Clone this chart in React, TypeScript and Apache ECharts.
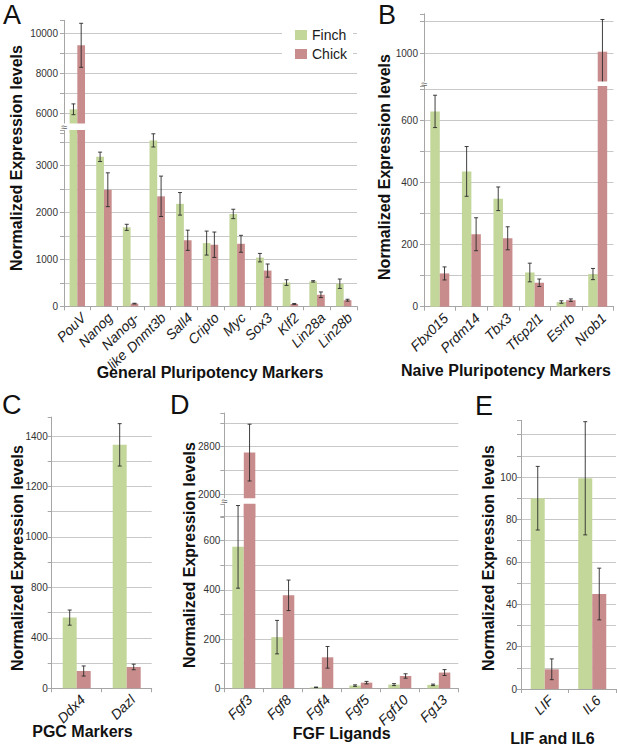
import React, { useEffect, useRef } from 'react';
import * as echarts from 'echarts';

const FONT = '"Liberation Sans", Arial, Helvetica, sans-serif';
const FINCH_COLOR = '#c4d79b';
const CHICK_COLOR = '#c98c8c';
const GRID_COLOR = '#c8c8c8';
const AXIS_COLOR = '#a6a6a6';

// ---- Panel A: General Pluripotency Markers ----
const catsA = ['PouV', 'Nanog', 'Nanog-\nlike', 'Dnmt3b', 'Sall4', 'Cripto', 'Myc', 'Sox3', 'Klf2', 'Lin28a', 'Lin28b'];
const finchA = [6200, 3180, 1680, 3530, 2180, 1345, 1965, 1035, 505, 530, 480];
const finchErrA = [270, 100, 65, 140, 240, 255, 100, 90, 60, 15, 100];
const chickA = [9400, 2480, 57, 2340, 1405, 1310, 1330, 760, 50, 245, 130];
const chickErrA = [1100, 360, 8, 430, 215, 270, 180, 140, 10, 60, 20];
const ticksAUpper = [6000, 8000, 10000];
const ticksALower = [0, 1000, 2000, 3000];

// ---- Panel B: Naive Pluripotency Markers ----
const catsB = ['Fbx015', 'Prdm14', 'Tbx3', 'Tfcp2l1', 'Esrrb', 'Nrob1'];
const finchB = [628, 435, 347, 110, 15, 105];
const finchErrB = [52, 80, 38, 30, 4, 18];
const chickB = [107, 233, 220, 77, 21, 1005];
const chickErrB = [21, 53, 37, 12, 4, 102];
const ticksBUpper = [1000];
const ticksBLower = [0, 200, 400, 600];

// ---- Panel C: PGC Markers ----
const catsC = ['Ddx4', 'Dazl'];
const finchC = [560, 1365];
const finchErrC = [60, 84];
const chickC = [137, 169];
const chickErrC = [40, 22];
const ticksCUpper = [1000, 1200, 1400];
const ticksCLower = [0, 400, 800];

// ---- Panel D: FGF Ligands ----
const catsD = ['Fgf3', 'Fgf8', 'Fgf4', 'Fgf5', 'Fgf10', 'Fg13'];
const finchD = [575, 208, 4, 11, 15, 14];
const finchErrD = [168, 68, 1, 3, 4, 3];
const chickD = [2700, 378, 126, 23, 50, 64];
const chickErrD = [480, 62, 44, 5, 9, 12];
const ticksDUpper = [2000, 2800];
const ticksDLower = [0, 200, 400, 600];

// ---- Panel E: LIF and IL6 ----
const catsE = ['LIF', 'IL6'];
const finchE = [90, 99.4];
const finchErrE = [15, 26.7];
const chickE = [9.3, 44.8];
const chickErrE = [4.9, 12.2];
const ticksE = [0, 20, 40, 60, 80, 100];

type Seg = {
  top: number; bottom: number; min: number; max: number; interval: number;
  labels: number[]; minLine: boolean; maxLine: boolean; bottomSeg: boolean; upper: boolean;
};
type Panel = {
  left: number; width: number; gap: number; cats: string[];
  finch: number[]; finchErr: number[]; chick: number[]; chickErr: number[];
  segs: Seg[]; labelMargin: number; breakBand?: [number, number];
};

const panels: Panel[] = [
  {
    left: 64, width: 293, gap: 0.42, cats: catsA,
    finch: finchA, finchErr: finchErrA, chick: chickA, chickErr: chickErrA, labelMargin: 6,
    breakBand: [123.5, 130],
    segs: [
      { top: 20.3, bottom: 133.3, min: 5000, max: 10650, interval: 1000, labels: ticksAUpper, minLine: false, maxLine: false, bottomSeg: false, upper: true },
      { top: 130.05, bottom: 306.3, min: 0, max: 3750, interval: 500, labels: ticksALower, minLine: true, maxLine: false, bottomSeg: true, upper: false },
    ],
  },
  {
    left: 424, width: 189.5, gap: 0.4, cats: catsB,
    finch: finchB, finchErr: finchErrB, chick: chickB, chickErr: chickErrB, labelMargin: 6,
    breakBand: [81.5, 85.9],
    segs: [
      { top: 13.8, bottom: 84.9, min: 900, max: 1125, interval: 100, labels: ticksBUpper, minLine: false, maxLine: false, bottomSeg: false, upper: true },
      { top: 85.9, bottom: 306.7, min: 0, max: 710, interval: 100, labels: ticksBLower, minLine: true, maxLine: false, bottomSeg: true, upper: false },
    ],
  },
  {
    left: 51.7, width: 100, gap: 0.44, cats: catsC,
    finch: finchC, finchErr: finchErrC, chick: chickC, chickErr: chickErrC, labelMargin: 4,
    segs: [
      { top: 417.1, bottom: 587.3, min: 800, max: 1475, interval: 100, labels: ticksCUpper, minLine: false, maxLine: false, bottomSeg: false, upper: true },
      { top: 587.3, bottom: 688.3, min: 0, max: 800, interval: 200, labels: ticksCLower, minLine: true, maxLine: true, bottomSeg: true, upper: false },
    ],
  },
  {
    left: 224.3, width: 234, gap: 0.41, cats: catsD,
    finch: finchD, finchErr: finchErrD, chick: chickD, chickErr: chickErrD, labelMargin: 4,
    breakBand: [498.3, 503.8],
    segs: [
      { top: 413, bottom: 517.65, min: 1600, max: 3370, interval: 400, labels: ticksDUpper, minLine: false, maxLine: false, bottomSeg: false, upper: true },
      { top: 503.8, bottom: 688.3, min: 0, max: 750, interval: 100, labels: ticksDLower, minLine: true, maxLine: false, bottomSeg: true, upper: false },
    ],
  },
  {
    left: 521, width: 95, gap: 0.41, cats: catsE,
    finch: finchE, finchErr: finchErrE, chick: chickE, chickErr: chickErrE, labelMargin: 4,
    segs: [
      { top: 420.4, bottom: 689, min: 0, max: 126.7, interval: 10, labels: ticksE, minLine: true, maxLine: false, bottomSeg: true, upper: false },
    ],
  },
];

const panelLetters = [
  { t: 'A', x: 3, y: 15 }, { t: 'B', x: 378, y: 15 }, { t: 'C', x: 2, y: 405 },
  { t: 'D', x: 170, y: 405 }, { t: 'E', x: 475, y: 406 },
];
const yTitles = [
  { x: 16, y: 158 }, { x: 384, y: 167 }, { x: 17.5, y: 558 }, { x: 189, y: 555 }, { x: 488, y: 558 },
];
const xTitles = [
  { t: 'General Pluripotency Markers', x: 210, y: 372 },
  { t: 'Naive Pluripotency Markers', x: 506, y: 370 },
  { t: 'PGC Markers', x: 82.5, y: 731.5 },
  { t: 'FGF Ligands', x: 341.7, y: 733.5 },
  { t: 'LIF and IL6', x: 552.5, y: 738 },
];

const CAT_FONT = 14;

function catLabel(v: string) {
  if (v.indexOf('\n') >= 0) {
    const parts = v.split('\n');
    return '{a|' + parts[0] + '}\n{b|' + parts[1] + '}';
  }
  return v;
}

function makeErrorRender(gap: number) {
  return (params: any, api: any) => {
    const i = api.value(0);
    const v = api.value(1);
    const e = api.value(2);
    const s = api.value(3);
    const cs = params.coordSys;
    const catW = api.size([1, 0])[0];
    const barW = (catW * (1 - gap)) / 2;
    const cx = api.coord([i, v])[0] + (s === 0 ? -barW / 2 : barW / 2);
    const yTop = api.coord([i, v + e])[1];
    const yBot = api.coord([i, v - e])[1];
    const minY = cs.y;
    const maxY = cs.y + cs.height;
    const ct = Math.max(yTop, minY);
    const cb = Math.min(yBot, maxY);
    if (cb <= ct) return null;
    const style = { stroke: '#2a2a2a', lineWidth: 0.9 };
    const children: any[] = [
      { type: 'line', shape: { x1: cx, y1: ct, x2: cx, y2: cb }, style },
    ];
    const capHalf = 2;
    if (yTop >= minY && yTop <= maxY) {
      children.push({ type: 'line', shape: { x1: cx - capHalf, y1: yTop, x2: cx + capHalf, y2: yTop }, style });
    }
    if (yBot >= minY && yBot <= maxY) {
      children.push({ type: 'line', shape: { x1: cx - capHalf, y1: yBot, x2: cx + capHalf, y2: yBot }, style });
    }
    return { type: 'group', children };
  };
}

function buildOption() {
  const grid: any[] = [];
  const xAxis: any[] = [];
  const yAxis: any[] = [];
  const series: any[] = [];
  const graphic: any[] = [];

  panels.forEach((p) => {
    p.segs.forEach((s) => {
      const gi = grid.length;
      grid.push({ left: p.left, width: p.width, top: s.top, height: s.bottom - s.top });
      xAxis.push({
        type: 'category', gridIndex: gi, data: p.cats, show: s.bottomSeg,
        axisLine: { show: true, lineStyle: { color: AXIS_COLOR, width: 1 } },
        axisTick: { show: true, length: 4, lineStyle: { color: AXIS_COLOR } },
        axisLabel: {
          rotate: 45, interval: 0, margin: 3, fontSize: CAT_FONT, fontStyle: 'italic',
          color: '#1a1a1a', fontFamily: FONT, lineHeight: 17, verticalAlign: 'top',
          formatter: catLabel,
          rich: {
            a: { fontSize: CAT_FONT, fontStyle: 'italic', color: '#1a1a1a', fontFamily: FONT, lineHeight: 16 },
            b: { fontSize: CAT_FONT, fontStyle: 'italic', color: '#1a1a1a', fontFamily: FONT, lineHeight: 20, padding: [0, 35, 0, 0] },
          },
        },
        splitLine: { show: false },
      });
      const labels = s.labels;
      yAxis.push({
        type: 'value', gridIndex: gi, min: s.min, max: s.max, interval: s.interval,
        axisLine: { show: true, lineStyle: { color: AXIS_COLOR, width: 1 } },
        axisTick: { show: true, length: 4, lineStyle: { color: AXIS_COLOR } },
        axisLabel: {
          margin: p.labelMargin, fontSize: 10, color: '#333', fontFamily: FONT,
          showMinLabel: true, showMaxLabel: true,
          formatter: (v: number) => (labels.some((l) => Math.abs(l - v) < 1e-6) ? String(Math.round(v)) : ''),
        },
        splitLine: {
          show: true, showMinLine: s.minLine, showMaxLine: s.maxLine,
          lineStyle: { color: GRID_COLOR, width: 1 },
        },
      });
      const filt = (arr: number[]) => arr.map((v) => (s.upper ? (v > s.min ? v : '-') : v));
      const gapPct = Math.round(p.gap * 100) + '%';
      series.push({
        type: 'bar', name: 'Finch', xAxisIndex: gi, yAxisIndex: gi, data: filt(p.finch),
        itemStyle: { color: FINCH_COLOR }, barGap: '0%', barCategoryGap: gapPct, clip: true,
      });
      series.push({
        type: 'bar', name: 'Chick', xAxisIndex: gi, yAxisIndex: gi, data: filt(p.chick),
        itemStyle: { color: CHICK_COLOR }, barGap: '0%', barCategoryGap: gapPct, clip: true,
      });
      const errData: any[] = [];
      p.cats.forEach((_, i) => {
        errData.push([i, p.finch[i], p.finchErr[i], 0]);
        errData.push([i, p.chick[i], p.chickErr[i], 1]);
      });
      series.push({
        type: 'custom', xAxisIndex: gi, yAxisIndex: gi, data: errData, z: 5,
        renderItem: makeErrorRender(p.gap), silent: true,
      });
    });
    if (p.breakBand) {
      const [y0, y1] = p.breakBand;
      graphic.push({
        type: 'rect', z: 100, silent: true,
        shape: { x: p.left - 7, y: y0, width: p.width + 8, height: y1 - y0 },
        style: { fill: '#ffffff' },
      });
      graphic.push({
        type: 'text', z: 101, silent: true, x: p.left, y: (y0 + y1) / 2,
        style: {
          text: '≈', fontSize: 11, fill: '#666', fontFamily: FONT,
          textAlign: 'center', textVerticalAlign: 'middle', align: 'center', verticalAlign: 'middle',
        },
      });
    }
  });

  panelLetters.forEach((l) => {
    graphic.push({
      type: 'text', z: 50, x: l.x, y: l.y,
      style: {
        text: l.t, fontSize: 27, fill: '#111', fontFamily: FONT,
        textAlign: 'left', textVerticalAlign: 'middle', align: 'left', verticalAlign: 'middle',
      },
    });
  });
  yTitles.forEach((t) => {
    graphic.push({
      type: 'text', z: 50, x: t.x, y: t.y, rotation: Math.PI / 2,
      style: {
        text: 'Normalized Expression levels', fontSize: 16, fontWeight: 'bold', fill: '#111', fontFamily: FONT,
        textAlign: 'center', textVerticalAlign: 'middle', align: 'center', verticalAlign: 'middle',
      },
    });
  });
  xTitles.forEach((t) => {
    graphic.push({
      type: 'text', z: 50, x: t.x, y: t.y,
      style: {
        text: t.t, fontSize: 16, fontWeight: 'bold', fill: '#111', fontFamily: FONT,
        textAlign: 'center', textVerticalAlign: 'middle', align: 'center', verticalAlign: 'middle',
      },
    });
  });

  return {
    animation: false,
    backgroundColor: '#ffffff',
    textStyle: { fontFamily: FONT },
    legend: {
      data: ['Finch', 'Chick'], orient: 'vertical', left: 282, top: 24,
      backgroundColor: '#ffffff', padding: [4, 6, 3, 13],
      itemWidth: 12, itemHeight: 10, itemGap: 5, icon: 'rect',
      textStyle: { fontSize: 14, color: '#1a1a1a', fontFamily: FONT },
      selectedMode: false,
    },
    grid, xAxis, yAxis, series, graphic,
  };
}

export default function App() {
  const ref = useRef<HTMLDivElement>(null);
  useEffect(() => {
    if (!ref.current) return;
    const chart = echarts.init(ref.current, undefined, { renderer: 'svg' });
    chart.setOption(buildOption() as any);
    return () => chart.dispose();
  }, []);
  return (
    <div
      ref={ref}
      style={{ position: 'fixed', left: 0, top: 0, width: 617, height: 750, background: '#fff' }}
    />
  );
}
